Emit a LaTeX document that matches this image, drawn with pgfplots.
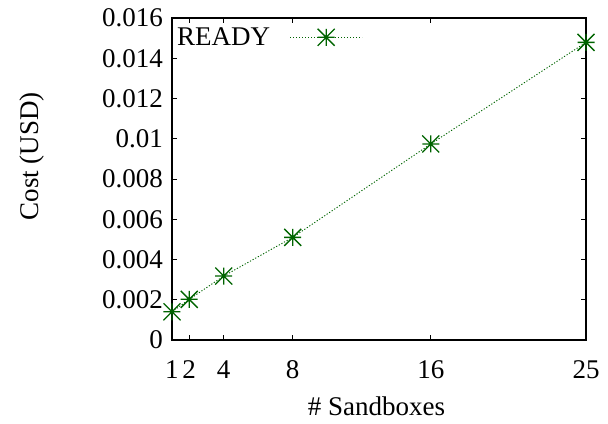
\documentclass[border=0pt]{standalone}
\usepackage{fontspec}
\setmainfont{Liberation Serif}
\setsansfont{Liberation Serif}
\usepackage{pgfplots}
\pgfplotsset{compat=1.18}
\definecolor{gpgreen}{RGB}{0,100,0}
\pgfdeclareplotmark{gpstar}{%
  \pgfpathmoveto{\pgfqpoint{-\pgfplotmarksize}{0pt}}%
  \pgfpathlineto{\pgfqpoint{\pgfplotmarksize}{0pt}}%
  \pgfpathmoveto{\pgfqpoint{0pt}{-\pgfplotmarksize}}%
  \pgfpathlineto{\pgfqpoint{0pt}{\pgfplotmarksize}}%
  \pgfpathmoveto{\pgfqpoint{-\pgfplotmarksize}{-\pgfplotmarksize}}%
  \pgfpathlineto{\pgfqpoint{\pgfplotmarksize}{\pgfplotmarksize}}%
  \pgfpathmoveto{\pgfqpoint{-\pgfplotmarksize}{\pgfplotmarksize}}%
  \pgfpathlineto{\pgfqpoint{\pgfplotmarksize}{-\pgfplotmarksize}}%
  \pgfusepathqstroke}
\begin{document}
\begin{tikzpicture}
\begin{axis}[
  at={(0,0)}, anchor=south west,
  scale only axis,
  width=414bp, height=322bp,
  xmin=1, xmax=25, ymin=0, ymax=0.016,
  font=\rmfamily\fontsize{27bp}{32bp}\selectfont,
  /pgf/number format/assume math mode=true,
  axis line style={black, line width=1.2bp},
  tick style={black, line width=0.9bp},
  major tick length=5bp,
  tick align=inside,
  xtick={1,2,4,8,16,25},
  xticklabels={1,2,4,8,16,25},
  ytick={0,0.002,0.004,0.006,0.008,0.01,0.012,0.014,0.016},
  yticklabels={0,0.002,0.004,0.006,0.008,0.01,0.012,0.014,0.016},
  scaled y ticks=false,
  ticklabel style={font=\rmfamily\fontsize{27bp}{32bp}\selectfont},
  xticklabel style={anchor=base, yshift=-38bp, inner sep=0pt},
  yticklabel style={anchor=east, xshift=-9bp, inner sep=0pt},
  xlabel={\# Sandboxes},
  ylabel={Cost (USD)},
  xlabel style={at={(axis description cs:0.494,-0.236)}, anchor=base},
  ylabel style={at={(axis description cs:-0.338,0.571)}, anchor=center, rotate=0},
  legend plot pos=right,
  legend style={draw=none, fill=none, at={(axis description cs:0.012,0.94)}, anchor=west,
    inner xsep=0pt, inner ysep=0pt, nodes={inner sep=0pt},
    font=\rmfamily\fontsize{27bp}{32bp}\selectfont},
  legend image code/.code={%
    \path[draw=none,fill=none] (0bp,0bp) rectangle (20bp,0.1bp);
    \draw[mark repeat=2,mark phase=2,#1] plot coordinates {(20bp,0bp) (56bp,0bp) (92bp,0bp)};},
]
\addplot[gpgreen, line width=0.9bp, dash pattern=on 1.2bp off 1.8bp,
  mark=gpstar, mark size=8.5bp, mark options={solid, line width=1.3bp}]
  coordinates {(1,0.0014) (2,0.00202) (4,0.00318) (8,0.0051) (16,0.00974) (25,0.01479)};
\addlegendentry{READY}
\end{axis}
\pgfresetboundingbox
\path (-172bp,-84bp) rectangle (436bp,340bp);
\end{tikzpicture}
\end{document}
